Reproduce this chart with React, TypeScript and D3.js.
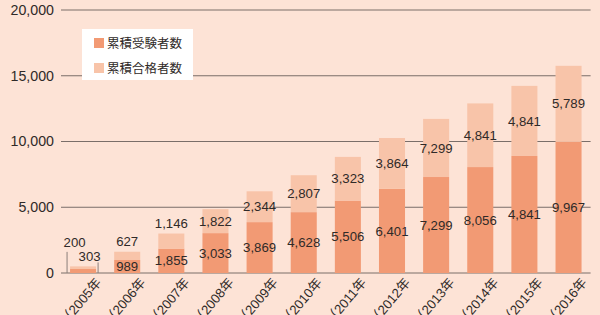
import React from "react";
import * as d3 from "d3";

const years = ["2005年", "2006年", "2007年", "2008年", "2009年", "2010年", "2011年", "2012年", "2013年", "2014年", "2015年", "2016年"];
const examinees = [303, 989, 1855, 3033, 3869, 4628, 5506, 6401, 7299, 8056, 8900, 9967];
const passers = [200, 627, 1146, 1822, 2344, 2807, 3323, 3864, 4420, 4841, 5330, 5789];
const examineeLabels = ["303", "989", "1,855", "3,033", "3,869", "4,628", "5,506", "6,401", "7,299", "8,056", "4,841", "9,967"];
const passerLabels = ["200", "627", "1,146", "1,822", "2,344", "2,807", "3,323", "3,864", "7,299", "4,841", "4,841", "5,789"];
const yTicks = [0, 5000, 10000, 15000, 20000];
const legendNames = ["累積受験者数", "累積合格者数"];

const W = 600, H = 315;
const BG = "#fde3d6";
const DARK = "#f29a74";
const LIGHT = "#f8c4a9";
const GRID = "#7a6e69";
const TXT = "#2f2a28";
const FONT = "'Liberation Sans', Arial, Helvetica, sans-serif";
const MIX = "'Liberation Sans', Arial, 'Noto Sans CJK JP', sans-serif";
const CJK = "'Noto Sans CJK JP', 'Noto Sans', sans-serif";

export default function App() {
  const x = d3.scaleBand<string>().domain(years).range([61, 590.6]).paddingInner(0.41).paddingOuter(0.205);
  const y = d3.scaleLinear().domain([0, 20000]).range([273, 10]);
  const fmt = d3.format(",");
  const bw = x.bandwidth();

  const bars = years.map((yr, i) => {
    const x0 = x(yr)!;
    const cx = x0 + bw / 2;
    const yDark = y(examinees[i]);
    const yTop = y(examinees[i] + passers[i]);
    const darkH = y(0) - yDark;
    const lightH = yDark - yTop;
    let darkLY: number, darkLX = cx, lightLY: number, lightLX = cx;
    const darkAbove = darkH < 8;
    if (!darkAbove) darkLY = (y(0) + yDark) / 2;
    else { darkLY = yTop - 10; darkLX = cx + 6.5; }
    if (lightH >= 18) lightLY = (yDark + yTop) / 2;
    else if (darkAbove) { lightLY = darkLY - 14.5; lightLX = cx - 8.5; }
    else lightLY = yTop - 10;
    return { yr, i, x0, cx, yDark, yTop, darkLY, darkLX, lightLY, lightLX, darkAbove };
  });

  return (
    <svg width={W} height={H} style={{ position: "fixed", left: 0, top: 0, display: "block" }}>
      <rect x={0} y={0} width={W} height={H} fill={BG} />
      {yTicks.map((t) => (
        <g key={t}>
          <line x1={61} x2={590.6} y1={y(t)} y2={y(t)} stroke={GRID} strokeWidth={1} />
          <text x={54} y={y(t)} dy="0.35em" textAnchor="end" fontFamily={FONT} fontSize={14.2} fill={TXT}>{fmt(t)}</text>
        </g>
      ))}
      {bars.map((b) => (
        <g key={b.yr}>
          <rect x={b.x0} y={b.yDark} width={bw} height={y(0) - b.yDark} fill={DARK} />
          <rect x={b.x0} y={b.yTop} width={bw} height={b.yDark - b.yTop} fill={LIGHT} />
        </g>
      ))}
      {bars.filter((b) => b.darkAbove).map((b) => (
        <g key={"br" + b.yr} stroke="#8a7f7a" strokeWidth={1} fill="none">
          <line x1={b.x0 - 3} x2={b.x0 - 3} y1={b.lightLY + 10} y2={y(0)} />
          <line x1={b.x0 + bw + 2} x2={b.x0 + bw + 2} y1={b.darkLY + 6} y2={y(0)} />
        </g>
      ))}
      {bars.map((b) => (
        <g key={"l" + b.yr} fontFamily={FONT} fontSize={13.2} fill={TXT} textAnchor="middle">
          <text x={b.darkLX} y={b.darkLY} dy="0.35em">{examineeLabels[b.i]}</text>
          <text x={b.lightLX} y={b.lightLY} dy="0.35em">{passerLabels[b.i]}</text>
        </g>
      ))}
      {bars.map((b) => (
        <text key={"x" + b.yr} transform={`translate(${b.cx + 19},${y(0) + 10}) rotate(-50)`} textAnchor="end" fontFamily={MIX} fontSize={13.2} fill={TXT}>
          {"（" + b.yr}
        </text>
      ))}
      <g>
        <rect x={82} y={29} width={111} height={51} fill="#ffffff" />
        {legendNames.map((n, i) => (
          <g key={n}>
            <rect x={94} y={38 + i * 25} width={10} height={10} fill={i === 0 ? DARK : LIGHT} />
            <text x={107} y={43 + i * 25} dy="0.36em" fontFamily={CJK} fontSize={12.5} fill={TXT}>{n}</text>
          </g>
        ))}
      </g>
    </svg>
  );
}
